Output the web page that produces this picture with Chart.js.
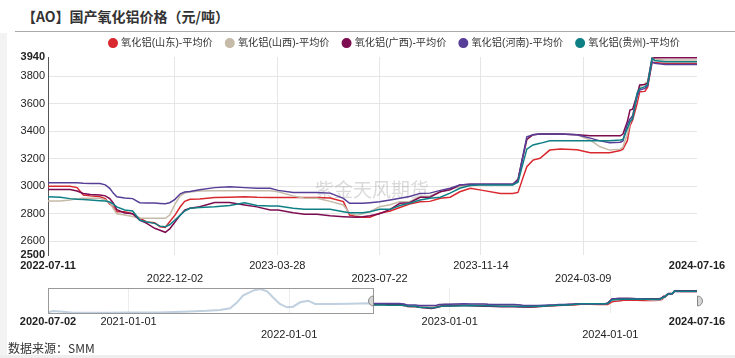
<!DOCTYPE html>
<html><head><meta charset="utf-8">
<script src="https://cdn.jsdelivr.net/npm/chart.js@4"></script>
<style>
html,body{margin:0;padding:0;background:#fff;}
body{width:735px;height:358px;position:relative;overflow:hidden;font-family:"Liberation Sans","Noto Sans CJK SC",sans-serif;}
#title{position:absolute;left:22px;top:6px;font:bold 14px "Noto Sans CJK SC";color:#333;white-space:nowrap;}
#rule{position:absolute;left:15px;top:31px;width:720px;height:1px;background:#aaa;}
#lstrip{position:absolute;left:0;top:33px;width:7px;height:325px;background:#f3f3f3;}
#bstrip{position:absolute;left:0;top:355px;width:735px;height:3px;background:#eee;}
#main{position:absolute;left:0;top:32px;}
#nav{position:absolute;left:0;top:286px;}
#src{position:absolute;left:8px;top:339px;font:12px "Noto Sans CJK SC";color:#333;white-space:nowrap;}
</style></head><body>
<div id="lstrip"></div><div id="bstrip"></div>
<div id="title">【AO】国产氧化铝价格（元/吨）</div>
<div id="rule"></div>
<canvas id="main" width="735" height="254"></canvas>
<canvas id="nav" width="735" height="56"></canvas>
<div id="src">数据来源：SMM</div>
<script>
// ---------- DATA ----------
const dates = ['2022-07-11','2022-07-25','2022-08-05','2022-08-13','2022-08-20','2022-08-28','2022-09-08','2022-09-14','2022-09-19','2022-09-23','2022-09-27','2022-10-06','2022-10-15','2022-10-23','2022-10-31','2022-11-09','2022-11-15','2022-11-21','2022-11-26','2022-12-02','2022-12-08','2022-12-13','2022-12-19','2022-12-30','2023-01-16','2023-02-02','2023-02-19','2023-03-05','2023-03-20','2023-03-29','2023-04-15','2023-04-28','2023-05-12','2023-05-27','2023-06-11','2023-06-18','2023-06-26','2023-07-03','2023-07-11','2023-07-22','2023-08-03','2023-08-14','2023-08-25','2023-09-06','2023-09-17','2023-09-29','2023-10-10','2023-10-21','2023-11-02','2023-11-16','2023-12-06','2023-12-20','2023-12-26','2023-12-31','2024-01-05','2024-01-12','2024-01-20','2024-01-31','2024-02-12','2024-03-02','2024-03-17','2024-03-28','2024-04-08','2024-04-20','2024-04-23','2024-04-28','2024-05-01','2024-05-04','2024-05-09','2024-05-12','2024-05-18','2024-05-21','2024-05-26','2024-05-29','2024-06-10','2024-06-27','2024-07-16'];
const shandong = [3000,3000,3000,2990,2936,2930,2924,2910,2870,2851,2815,2815,2800,2767,2740,2735,2706,2700,2742,2790,2851,2890,2905,2908,2918,2920,2924,2920,2918,2918,2918,2918,2918,2915,2888,2791,2780,2774,2775,2803,2820,2845,2870,2888,2890,2912,2920,2960,2985,2970,2948,2948,2955,3050,3142,3190,3203,3263,3270,3265,3244,3244,3244,3260,3270,3330,3440,3481,3600,3687,3690,3720,3900,3900,3893,3893,3893];
const shanxi = [2893,2893,2900,2910,2912,2912,2912,2900,2880,2840,2800,2791,2780,2767,2767,2767,2767,2767,2790,2870,2930,2950,2958,2965,2967,2967,2967,2967,2967,2960,2930,2912,2912,2890,2864,2803,2790,2800,2815,2851,2865,2888,2888,2924,2930,2960,2980,2997,3010,3010,3010,3010,3040,3200,3340,3375,3380,3380,3380,3375,3336,3287,3263,3270,3285,3380,3460,3520,3640,3720,3748,3760,3930,3925,3918,3918,3918];
const guangxi = [2977,2977,2977,2965,2948,2940,2936,2930,2910,2878,2830,2805,2800,2754,2730,2694,2680,2665,2690,2740,2790,2827,2840,2851,2882,2882,2864,2850,2827,2827,2808,2796,2796,2785,2779,2777,2775,2778,2785,2800,2832,2876,2880,2920,2920,2960,2975,3009,3014,3014,3014,3014,3050,3200,3340,3375,3380,3380,3380,3375,3367,3367,3367,3367,3380,3470,3554,3560,3663,3736,3740,3750,3930,3935,3935,3935,3935];
const henan = [3025,3025,3025,3025,3022,3020,3020,3010,2985,2950,2924,2915,2910,2880,2878,2878,2875,2872,2880,2905,2945,2958,2962,2975,2990,2997,2990,2985,2985,2970,2955,2955,2955,2950,2912,2876,2876,2876,2880,2887,2900,2912,2925,2948,2950,2970,2985,3010,3014,3014,3014,3014,3040,3200,3360,3375,3380,3380,3380,3375,3350,3330,3316,3320,3330,3450,3489,3510,3651,3700,3712,3730,3905,3895,3886,3886,3886];
const guizhou = [2924,2920,2910,2905,2903,2900,2895,2893,2885,2870,2850,2827,2820,2754,2740,2730,2710,2706,2720,2755,2790,2820,2840,2845,2851,2860,2880,2860,2856,2856,2840,2832,2832,2832,2815,2808,2808,2808,2815,2832,2832,2860,2876,2900,2912,2920,2950,2985,3005,3010,3010,3010,3030,3150,3270,3300,3312,3331,3331,3331,3331,3331,3331,3336,3340,3420,3470,3490,3676,3710,3724,3740,3930,3915,3905,3905,3905];
const seriesNames = ['氧化铝(山东)-平均价','氧化铝(山西)-平均价','氧化铝(广西)-平均价','氧化铝(河南)-平均价','氧化铝(贵州)-平均价'];
const yTickValues = [2500,2600,2800,3000,3200,3400,3600,3800,3940];
const xTickLabels = ['2022-07-11','2022-12-02','2023-03-28','2023-07-22','2023-11-14','2024-03-09','2024-07-16'];
const navHistDates = ['2020-07-02','2020-07-13','2020-07-29','2020-08-28','2020-11-13','2021-01-01','2021-03-07','2021-05-05','2021-06-28','2021-07-28','2021-08-20','2021-09-05','2021-09-18','2021-10-11','2021-10-27','2021-11-12','2021-11-25','2021-12-11','2021-12-27','2022-01-10','2022-01-26','2022-02-13','2022-03-01','2022-04-11','2022-05-19','2022-06-27','2022-07-11'];
const navHistValues = [2380,2480,2440,2360,2360,2370,2370,2430,2500,2560,2680,3110,3590,3950,4070,3900,3470,2990,2750,2795,3110,3225,2990,2990,3010,3040,2960];
const navTickLabels = ['2020-07-02','2021-01-01','2022-01-01','2023-01-01','2024-01-01','2024-07-16'];

// ---------- HELPERS ----------
const day = s => Date.UTC(+s.slice(0,4), +s.slice(5,7)-1, +s.slice(8,10)) / 864e5;
const fmt = d => new Date(Math.round(d)*864e5).toISOString().slice(0,10);
const seriesValues = [shandong, shanxi, guangxi, henan, guizhou];
const colors = ['#d9282f','#c6baa8','#7d0c50','#573f98','#0f7f86'];
const pts = vals => dates.map((d,i) => ({x: day(d), y: vals[i]}));
const FAM = '"Liberation Sans","Noto Sans CJK SC",sans-serif';
const mainTicks = xTickLabels.map(day);
const navTicks = navTickLabels.map(day);
const navRows = [0,0,1,0,1,0];

const legendShift = { id:'legendShift', afterLayout(chart){ const l = chart.legend; if(!l) return; const dx = 96, dy = -8; l.left += dx; l.right += dx; l.top += dy; l.bottom += dy; } };
const watermark = { id:'wm', beforeDatasetsDraw(chart){ const c = chart.ctx; c.save(); c.font = '19px "Noto Sans CJK SC"'; c.fillStyle = 'rgba(150,150,150,0.35)'; c.textBaseline = 'middle'; c.fillText('紫金天风期货', 315, 158); c.restore(); } };

const mainChart = new Chart(document.getElementById('main'), {
  type: 'line',
  data: { datasets: seriesNames.map((n,i) => ({label:n, order: -i, data: pts(seriesValues[i]), borderColor: colors[i], backgroundColor: colors[i], borderWidth: 1.5, pointRadius: 0, tension: 0, fill: false})) },
  options: {
    responsive: false, animation: false, events: [],
    layout: { padding: { left: 0, right: 38, top: 0, bottom: 0 } },
    plugins: {
      legend: { display: true, position: 'top', align: 'start', maxHeight: 25,
        labels: { usePointStyle: true, pointStyle: 'circle', boxWidth: 6, boxHeight: 6, padding: 14, color: '#333',
          font: { size: 10.2, family: FAM }, sort: (a, b) => a.datasetIndex - b.datasetIndex } },
      tooltip: { enabled: false }
    },
    scales: {
      x: { type: 'linear', min: mainTicks[0], max: mainTicks[mainTicks.length-1],
        afterBuildTicks: s => { s.ticks = mainTicks.map(v => ({value: v})); },
        afterFit: s => { s.height = 31; },
        grid: { color: c => (c.index === 0 || c.index === mainTicks.length-1) ? 'rgba(0,0,0,0)' : '#e6e6e6', drawTicks: false },
        border: { display: false },
        ticks: { autoSkip: false, maxRotation: 0, padding: 4, color: '#222',
          font: c => ({ size: 11, family: FAM, weight: (c.index === 0 || c.index === mainTicks.length-1) ? 'bold' : 'normal' }),
          callback: (v, i) => { const t = fmt(v); return i % 2 === 0 ? [t, ''] : ['', t]; } }
      },
      y: { min: 2500, max: 3940,
        afterBuildTicks: s => { s.ticks = yTickValues.map(v => ({value: v})); },
        afterFit: s => { s.width = 48; },
        grid: { color: c => (c.tick && (c.tick.value === 2500 || c.tick.value === 3940)) ? 'rgba(0,0,0,0)' : '#e6e6e6', drawTicks: false },
        border: { display: true, color: '#555', width: 1 },
        ticks: { padding: 3, color: '#222', callback: v => String(v),
          font: c => ({ size: 11, family: FAM, weight: (c.index === 0 || c.index === yTickValues.length-1) ? 'bold' : 'normal' }) }
      }
    }
  },
  plugins: [legendShift, watermark]
});

const navMask = { id:'navMask', afterDatasetsDraw(chart){
  const {ctx, chartArea: a, scales: {x}} = chart;
  const x0 = x.getPixelForValue(mainTicks[0]);
  const x1 = x.getPixelForValue(mainTicks[mainTicks.length-1]);
  ctx.save();
  ctx.strokeStyle = '#999'; ctx.lineWidth = 1;
  ctx.strokeRect(Math.round(a.left)+0.5, Math.round(a.top)+0.5, Math.round(x0 - a.left), Math.round(a.bottom - a.top));
  const my = Math.round((a.top + a.bottom)/2);
  ctx.fillStyle = '#d6d6d6'; ctx.strokeStyle = '#888';
  ctx.beginPath(); ctx.arc(Math.round(x0)+0.5, my, 5, Math.PI/2, Math.PI*1.5); ctx.closePath(); ctx.fill(); ctx.stroke();
  ctx.beginPath(); ctx.arc(Math.round(x1)+0.5, my, 5, -Math.PI/2, Math.PI/2); ctx.closePath(); ctx.fill(); ctx.stroke();
  ctx.restore();
} };

const navChart = new Chart(document.getElementById('nav'), {
  type: 'line',
  data: { datasets: [
    ...seriesValues.map((v,i) => ({ order: -i, data: pts(v), borderColor: colors[i], borderWidth: 1.5, pointRadius: 0, tension: 0 })),
    { order: 10, data: navHistDates.map((d,i) => ({x: day(d), y: navHistValues[i]})), borderColor: 'rgba(185,203,220,0.9)', borderWidth: 2, pointRadius: 0, tension: 0 }
  ] },
  options: {
    responsive: false, animation: false, events: [],
    layout: { padding: { left: 48, right: 38, top: 2, bottom: 0 } },
    plugins: { legend: { display: false }, tooltip: { enabled: false } },
    scales: {
      x: { type: 'linear', min: navTicks[0], max: navTicks[navTicks.length-1],
        afterBuildTicks: s => { s.ticks = navTicks.map(v => ({value: v})); },
        afterFit: s => { s.height = 29; },
        grid: { color: c => (c.index === 0 || c.index === navTicks.length-1) ? 'rgba(0,0,0,0)' : '#ececec', drawTicks: false },
        border: { display: false },
        ticks: { autoSkip: false, maxRotation: 0, padding: 2, color: '#222',
          font: c => ({ size: 11, family: FAM, weight: (c.index === 0 || c.index === navTicks.length-1) ? 'bold' : 'normal' }),
          callback: (v, i) => { const t = fmt(v); return navRows[i] === 0 ? [t, ''] : ['', t]; } }
      },
      y: { display: false, min: 2340, max: 4140 }
    }
  },
  plugins: [navMask]
});
</script>
</body></html>
